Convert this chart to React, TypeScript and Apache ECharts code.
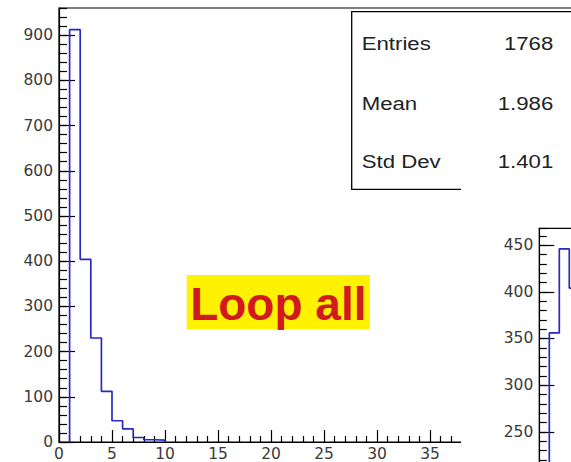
import React, { useEffect, useRef } from "react";
import * as echarts from "echarts";

// ---- data ----
const mainBinLowEdges = [1, 2, 3, 4, 5, 6, 7, 8, 9];
const mainCounts = [912, 404, 230, 112, 47, 29, 10, 5, 4];
const insetBinLowEdges = [1, 2, 3];
const insetCounts = [356, 446, 404];
const statsLabels = ["Entries", "Mean", "Std Dev"];
const statsValues = ["1768", "1.986", "1.401"];
const titleText = "Loop all";
const binWidth = 1;
const mainXLabelMax = 35; // last visible x tick label
const insetYLabelMin = 250; // lowest visible inset y tick label

function stepData(lows: number[], counts: number[]): number[][] {
  const pts: number[][] = [[lows[0], 0]];
  counts.forEach((c, i) => pts.push([lows[i], c]));
  pts.push([lows[lows.length - 1] + binWidth, 0]);
  return pts;
}

const axisFont = { fontFamily: "DejaVu Sans", fontSize: 15.5, color: "#3a3a3a" };
const blk = { color: "#000", width: 1.2 };
const histColor = "#2828c4";

function yAxes(max: number, minorInt: number, majorInt: number, majorLen: number, minorLen: number, labelMin: number) {
  return [
    {
      type: "value", min: 0, max, interval: minorInt, position: "left",
      axisLine: { show: true, onZero: false, lineStyle: blk },
      axisTick: { show: true, inside: true, length: minorLen, lineStyle: blk },
      axisLabel: { show: false },
      splitLine: { show: false },
    },
    {
      type: "value", min: 0, max, interval: majorInt, position: "left",
      axisLine: { show: false },
      axisTick: { show: true, inside: true, length: majorLen, lineStyle: blk },
      axisLabel: {
        ...axisFont, margin: 6,
        showMaxLabel: false,
        formatter: (v: number) => (v % majorInt === 0 && v >= labelMin ? String(v) : ""),
      },
      splitLine: { show: false },
    },
  ];
}

function MainChart() {
  const ref = useRef<HTMLDivElement>(null);
  useEffect(() => {
    const chart = echarts.init(ref.current!, null, { renderer: "svg" });
    const statsY = [43.6, 103.6, 161.9];
    chart.setOption({
      animation: false,
      grid: { left: 59, top: 8, width: 530, height: 435, show: true, borderColor: "#000", borderWidth: 1.2 },
      xAxis: {
        type: "value", min: 0, max: 50, interval: 5,
        axisLine: { show: true, onZero: false, lineStyle: blk },
        axisTick: { show: true, inside: true, length: 12, lineStyle: blk },
        minorTick: { show: true, splitNumber: 5, length: 6, lineStyle: blk },
        axisLabel: {
          ...axisFont, margin: 4,
          showMaxLabel: false,
          formatter: (v: number) => (v <= mainXLabelMax ? String(v) : ""),
        },
        splitLine: { show: false },
      },
      yAxis: yAxes(960, 20, 100, 16, 8, 0),
      series: [
        {
          type: "line", step: "end", xAxisIndex: 0, yAxisIndex: 0,
          data: stepData(mainBinLowEdges, mainCounts),
          showSymbol: false, symbol: "none",
          lineStyle: { color: histColor, width: 1.7 },
        },
      ],
      graphic: [
        {
          type: "rect", z: 100,
          shape: { x: 351.7, y: 11.7, width: 300, height: 177.6 },
          style: { fill: "#fff", stroke: "#000", lineWidth: 1.3 },
        },
        ...statsLabels.map((t, i) => ({
          type: "text", z: 101, x: 361.7, y: statsY[i], scaleX: 1.2,
          style: { text: t, fontFamily: "Liberation Sans", fontSize: 18.5, fill: "#222", align: "left", verticalAlign: "middle" },
        })),
        ...statsValues.map((t, i) => ({
          type: "text", z: 101, x: 553.3, y: statsY[i], scaleX: 1.2,
          style: { text: t, fontFamily: "Liberation Sans", fontSize: 18.5, fill: "#222", align: "right", verticalAlign: "middle" },
        })),
        {
          type: "rect", z: 100,
          shape: { x: 186.7, y: 275, width: 183.3, height: 54.3 },
          style: { fill: "#fff200" },
        },
        {
          type: "text", z: 101, x: 278.3, y: 304,
          style: { text: titleText, fontFamily: "Liberation Sans", fontWeight: "bold", fontSize: 46, fill: "#d11a1f", align: "center", verticalAlign: "middle" },
        },
      ],
    });
    return () => chart.dispose();
  }, []);
  return <div ref={ref} style={{ position: "absolute", left: 0, top: 0, width: 640, height: 462 }} />;
}

function InsetChart() {
  const ref = useRef<HTMLDivElement>(null);
  useEffect(() => {
    const chart = echarts.init(ref.current!, null, { renderer: "svg" });
    chart.setOption({
      animation: false,
      backgroundColor: "#fff",
      grid: { left: 78.3, top: 43.3, width: 400, height: 437, show: true, borderColor: "#000", borderWidth: 1.2 },
      xAxis: {
        type: "value", min: 0, max: 40, interval: 5,
        axisLine: { show: true, onZero: false, lineStyle: blk },
        axisTick: { show: true, inside: true, length: 12, lineStyle: blk },
        axisLabel: { show: false },
        splitLine: { show: false },
      },
      yAxis: yAxes(468, 10, 50, 15, 7.5, insetYLabelMin),
      series: [
        {
          type: "line", step: "end", xAxisIndex: 0, yAxisIndex: 0,
          data: stepData(insetBinLowEdges, insetCounts),
          showSymbol: false, symbol: "none",
          lineStyle: { color: histColor, width: 1.7 },
        },
      ],
    });
    return () => chart.dispose();
  }, []);
  return <div ref={ref} style={{ position: "absolute", left: 461, top: 185, width: 600, height: 520, background: "#fff" }} />;
}

export default function App() {
  return (
    <div style={{ position: "fixed", left: 0, top: 0, width: 571, height: 462, overflow: "hidden", background: "#fff" }}>
      <MainChart />
      <InsetChart />
    </div>
  );
}
